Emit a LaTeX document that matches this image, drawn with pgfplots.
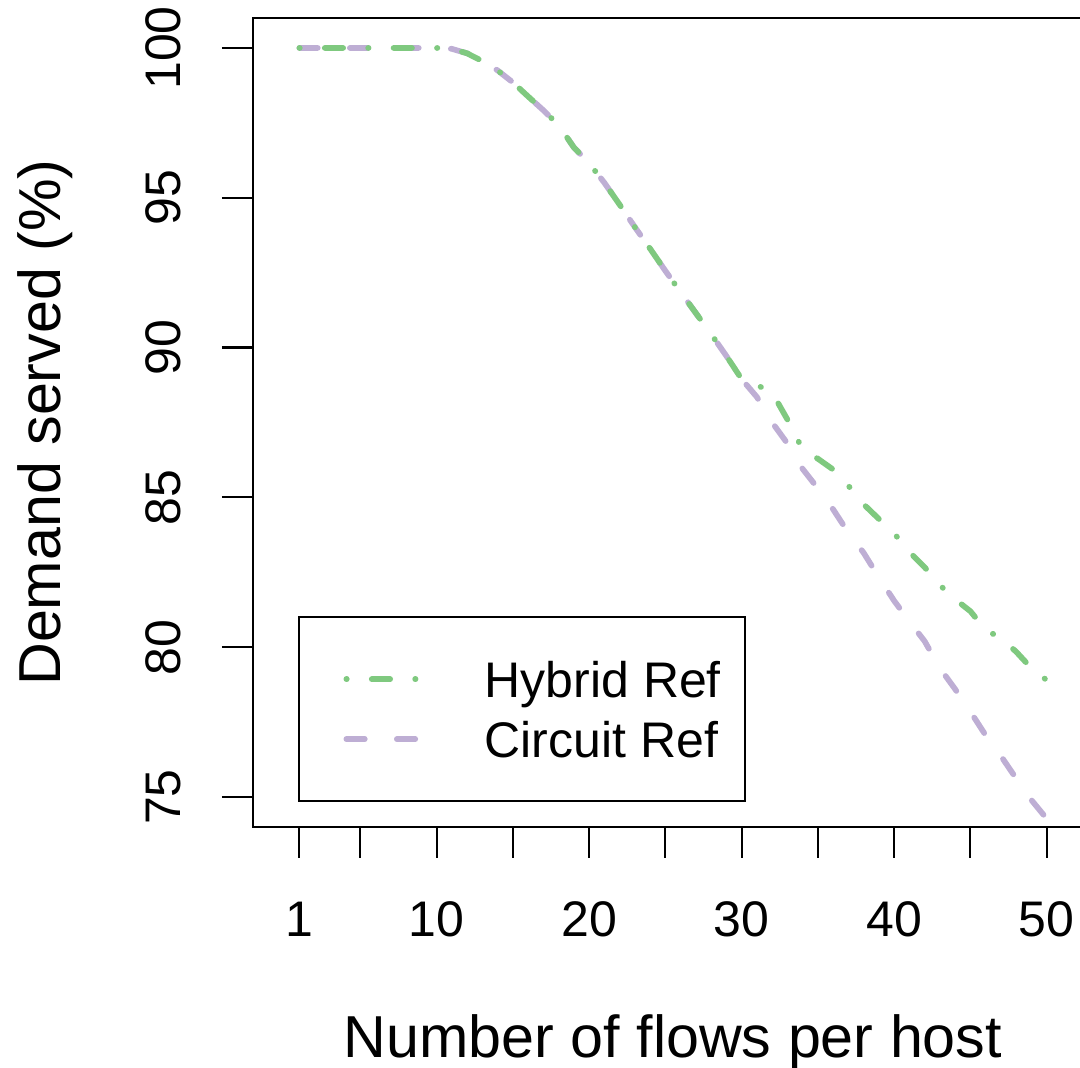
\documentclass[border=0pt]{standalone}
\usepackage{fontspec}
\setmainfont{Liberation Sans}
\usepackage{pgfplots}
\pgfplotsset{compat=1.18}
\definecolor{hgreen}{HTML}{7FC97F}
\definecolor{cpurple}{HTML}{BEAED4}
\pgfplotstableread{
x y
1 100
2 100
3 100
4 100
5 100
6 100
7 100
8 100
9 100
10 100
11 99.97
12 99.82
13 99.56
14 99.25
15 98.85
16 98.38
17 97.92
18 97.42
19 96.68
20 96.15
21 95.5
22 94.77
23 94.02
24 93.3
25 92.56
26 91.85
27 91.15
28 90.45
29 89.72
30 88.95
31 88.75
32 88.5
33 87.6
34 86.6
35 86.29
36 85.93
37 85.39
38 84.77
39 84.28
40 83.8
41 83.18
42 82.67
43 82.07
44 81.6
45 81.2
46 80.58
47 80.3
48 79.85
49 79.3
50 78.9
}\hybrid
\pgfplotstableread{
x y
1 100
2 100
3 100
4 100
5 100
6 100
7 100
8 100
9 100
10 100
11 99.97
12 99.82
13 99.56
14 99.25
15 98.85
16 98.38
17 97.92
18 97.42
19 96.68
20 96.15
21 95.5
22 94.77
23 94.02
24 93.3
25 92.56
26 91.85
27 91.15
28 90.45
29 89.72
30 88.95
31 88.35
32 87.5
33 86.8
34 85.95
35 85.3
36 84.6
37 83.82
38 83.15
39 82.33
40 81.55
41 80.86
42 80.2
43 79.3
44 78.6
45 77.85
46 77.06
47 76.37
48 75.62
49 74.9
50 74.28
}\circuit
\begin{document}
\begin{tikzpicture}
\begin{axis}[
  at={(126.5pt,120.5pt)}, anchor=south west,
  scale only axis, width=420pt, height=404.5pt,
  xmin=-2.04, xmax=53.04, ymin=74, ymax=101,
  axis line style={line width=1.1pt},
  xtick={1,5,10,15,20,25,30,35,40,45,50},
  xticklabels={1,,10,,20,,30,,40,,50},
  ytick={75,80,85,90,95,100},
  xtick pos=left, ytick pos=left,
  tick align=outside,
  major tick length=15.5pt,
  every tick/.style={black, line width=1.1pt},
  tick label style={font=\fontsize{25}{25}\selectfont},
  /pgf/number format/assume math mode=true,
  xticklabel style={anchor=base, yshift=-39.5pt},
  yticklabel style={xshift=-20.5pt, rotate=90, anchor=base},
  xlabel={Number of flows per host},
  ylabel={Demand served (\%)},
  label style={font=\fontsize{29.6}{29.6}\selectfont},
  xlabel style={at={(axis description cs:0.5,0)}, anchor=base, yshift=-115.5pt},
  ylabel style={at={(axis description cs:-0.22857,0.5)}, anchor=base},
  legend style={at={(axis cs:1,81)}, anchor=north west, draw=black, line width=1.1pt,
    outer sep=0pt, inner xsep=12pt, inner ysep=16pt, column sep=0pt, row sep=0pt,
    fill=white, font=\fontsize{25}{25}\selectfont,
    nodes={inner sep=0pt, anchor=base west, yshift=-9pt},
    cells={anchor=base west}},
  legend image code/.code={\path[draw=none,fill=none] (-11.5pt,-15pt) rectangle (69.2pt,15pt);
    \draw[#1] (0pt,0pt) -- (34.8pt,0pt);},
  reverse legend,
]
\addplot[color=cpurple, line width=2.85pt, line cap=round, line join=round,
  dash pattern=on 9.2pt off 16.05pt] table[x=x,y=y] {\circuit};
\addlegendentry{Circuit Ref}
\addplot[color=hgreen, line width=2.85pt, line cap=round, line join=round,
  dash pattern=on 0.2pt off 12.5pt on 9.2pt off 12.5pt] table[x=x,y=y] {\hybrid};
\addlegendentry{Hybrid Ref}
\end{axis}
\pgfresetboundingbox
\useasboundingbox (0,0) rectangle (540pt,534pt);
\end{tikzpicture}
\end{document}
